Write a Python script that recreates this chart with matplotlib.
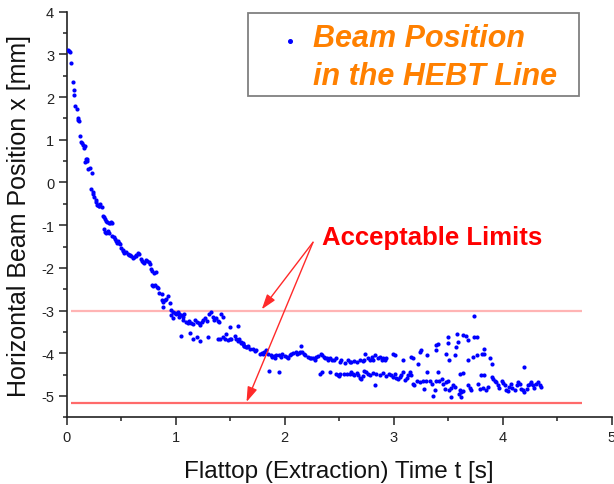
import matplotlib
matplotlib.use('Agg')
import matplotlib.pyplot as plt
import numpy as np
from matplotlib.patches import Rectangle
from matplotlib.lines import Line2D
from matplotlib.ticker import MultipleLocator

plt.rcParams['font.family'] = ['Liberation Sans', 'DejaVu Sans']
plt.rcParams['axes.unicode_minus'] = False

# beam position readings, t [s] / x [mm], grouped by phase of the flattop
t_early = [0.01, 0.03, 0.04, 0.055, 0.07, 0.065, 0.08, 0.095, 0.105, 0.11, 0.12, 0.135, 0.15, 0.16, 0.165,
           0.18, 0.17, 0.19, 0.21, 0.20, 0.23, 0.225, 0.24, 0.255, 0.265, 0.28, 0.29, 0.30, 0.31, 0.32,
           0.33, 0.34, 0.35, 0.37, 0.39, 0.41, 0.42, 0.34, 0.35, 0.365, 0.38, 0.39, 0.42, 0.44, 0.455,
           0.47, 0.48, 0.46, 0.50, 0.515, 0.53, 0.545, 0.56, 0.575, 0.59, 0.605, 0.62, 0.635, 0.65, 0.665,
           0.68, 0.695, 0.71, 0.725, 0.74, 0.755, 0.77, 0.785, 0.80, 0.815,
           0.02, 0.10, 0.14, 0.185, 0.245, 0.27, 0.295, 0.36, 0.40, 0.43, 0.49, 0.52, 0.58, 0.64, 0.70, 0.76]
x_early = [3.10, 3.06, 2.80, 2.35, 2.16, 2.06, 1.79, 1.73, 1.47, 1.44, 1.08, 0.96, 0.87, 0.80, 0.85,
           0.54, 0.49, 0.55, 0.35, 0.31, 0.23, -0.16, -0.23, -0.33, -0.40, -0.52, -0.53, -0.55, -0.51, -0.57,
           -0.78, -0.82, -0.86, -0.92, -0.95, -0.93, -0.95, -1.10, -1.16, -1.18, -1.13, -1.18, -1.26, -1.32, -1.36,
           -1.38, -1.42, -1.41, -1.53, -1.58, -1.64, -1.62, -1.67, -1.69, -1.73, -1.76, -1.74, -1.71, -1.65, -1.68,
           -1.80, -1.84, -1.88, -1.81, -1.85, -1.87, -2.03, -2.07, -2.11, -2.09,
           3.08, 1.50, 0.92, 0.50, -0.28, -0.45, -0.54, -0.90, -0.96, -1.28, -1.45, -1.60, -1.71, -1.72, -1.86, -1.90]

t_mid = [0.78, 0.795, 0.81, 0.825, 0.84, 0.85, 0.87, 0.87, 0.885, 0.90, 0.915, 0.93, 0.945, 0.885, 0.96,
         0.975, 0.99, 1.00, 1.02, 1.035, 1.05, 1.065, 1.08, 0.96, 0.975, 1.035, 1.065, 1.095, 1.11, 1.125,
         1.14, 1.155, 1.18, 1.195, 1.21, 1.225, 1.24, 1.255, 1.27, 1.285, 1.31, 1.325, 1.34, 1.355, 1.37,
         1.385, 1.40, 1.415, 1.43, 1.50, 1.57,
         1.05, 1.13, 1.16, 1.20, 1.22, 1.30,
         1.39, 1.405, 1.435, 1.45, 1.465, 1.48, 1.495, 1.51, 1.54, 1.555, 1.57, 1.585, 1.60, 1.615, 1.63,
         1.645, 1.66]
x_mid = [-2.40, -2.43, -2.40, -2.44, -2.48, -2.58, -2.62, -2.75, -2.79, -2.76, -2.73, -2.67, -2.83, -2.92, -2.99,
         -3.03, -3.06, -3.09, -3.03, -3.07, -3.11, -3.14, -3.08, -3.11, -3.18, -3.14, -3.22, -3.26, -3.30, -3.24,
         -3.28, -3.32, -3.22, -3.26, -3.30, -3.34, -3.26, -3.22, -3.18, -3.24, -3.08, -3.04, -3.15, -3.22, -3.18,
         -3.24, -3.26, -3.08, -3.15, -3.38, -3.36,
         -3.60, -3.53, -3.67, -3.62, -3.72, -3.62,
         -3.67, -3.66, -3.63, -3.67, -3.55, -3.68, -3.66, -3.67, -3.60, -3.67, -3.72, -3.67, -3.75, -3.79, -3.82,
         -3.86, -3.84]

t_upper = [1.60, 1.62, 1.63, 1.65, 1.68, 1.71, 1.73, 1.74, 1.77, 1.79, 1.80, 1.81, 1.83, 1.85, 1.87,
           1.88, 1.90, 1.91, 1.92, 1.95, 1.97, 1.98, 2.00, 2.02, 2.03, 2.05, 2.06, 2.08, 2.10, 2.11,
           2.13, 2.14, 2.15, 2.16, 2.18, 2.19, 2.21, 2.23, 2.24, 2.26, 2.28, 2.29, 2.31, 2.33, 2.34,
           2.36, 2.37, 2.39, 2.40, 2.42, 2.43, 2.45, 2.47, 2.51, 2.52, 2.55, 2.58, 2.60, 2.61, 2.64,
           2.66, 2.69, 2.72, 2.73, 2.74, 2.76, 2.78, 2.80, 2.81, 2.83, 2.86, 2.87, 2.89, 2.90, 2.92,
           2.93, 2.99, 3.01, 3.09, 3.16, 3.18, 3.22, 3.24, 3.25, 3.31, 3.39]
x_upper = [-3.73, -3.77, -3.82, -3.85, -3.89, -3.91, -3.95, -3.93, -4.01, -3.99, -4.02, -3.97, -3.93, -4.01, -4.05,
           -4.09, -4.07, -4.12, -4.05, -4.05, -4.09, -4.02, -4.07, -4.09, -4.10, -4.05, -4.01, -3.99, -3.97, -4.01,
           -3.99, -3.97, -3.84, -3.96, -4.01, -4.05, -4.09, -4.12, -4.10, -4.12, -4.15, -4.09, -4.07, -4.02, -4.05,
           -4.09, -4.12, -4.10, -4.15, -4.12, -4.16, -4.15, -4.12, -4.20, -4.16, -4.22, -4.16, -4.20, -4.20, -4.18,
           -4.20, -4.16, -4.18, -4.15, -4.01, -4.12, -4.16, -4.09, -4.15, -4.05, -4.12, -4.09, -4.15, -4.10, -4.16,
           -4.12, -4.01, -4.05, -4.15, -4.09, -4.12, -4.24, -3.97, -3.93, -4.05, -3.93]

t_lower = [2.32, 2.34, 2.42, 2.47, 2.49, 2.50, 2.51, 2.54, 2.57, 2.60, 2.61, 2.63, 2.64, 2.66, 2.67,
           2.69, 2.70, 2.72, 2.73, 2.75, 2.76, 2.78, 2.81, 2.83, 2.84, 2.87, 2.90, 2.93, 2.96, 2.98,
           2.99, 3.01, 3.02, 3.04, 3.06, 3.07, 3.09, 3.10, 3.12, 3.13, 3.15, 3.16, 3.18, 3.19, 3.21,
           3.24, 3.27, 3.28, 3.30, 3.31, 3.33, 3.35, 3.36, 3.38, 3.39, 3.41, 3.42, 3.44, 3.45, 3.47,
           3.48, 3.50, 3.51, 3.53, 3.54, 3.56, 3.61, 3.64, 3.61, 3.62, 3.64, 3.68, 3.70, 3.71, 3.77,
           3.79, 3.80, 3.82, 3.83, 3.85, 3.87, 3.90, 3.91, 3.93, 3.94, 3.96, 3.97, 3.99, 4.00, 4.02,
           4.03, 4.05, 4.06, 4.08, 4.09, 4.11, 4.13, 4.14, 4.16, 4.17, 4.19, 4.20, 4.22, 4.23, 4.25,
           4.26, 4.28, 4.29, 4.31, 4.32, 4.34, 4.35]
x_lower = [-4.48, -4.44, -4.44, -4.48, -4.52, -4.53, -4.49, -4.48, -4.49, -4.48, -4.44, -4.49, -4.52, -4.46, -4.52,
           -4.57, -4.60, -4.54, -4.42, -4.44, -4.48, -4.52, -4.46, -4.75, -4.49, -4.50, -4.47, -4.53, -4.48, -4.52,
           -4.56, -4.49, -4.57, -4.60, -4.56, -4.52, -4.44, -4.62, -4.57, -4.52, -4.44, -4.52, -4.71, -4.75, -4.65,
           -4.68, -4.64, -4.83, -4.64, -4.44, -4.64, -4.71, -4.99, -4.87, -4.64, -4.44, -4.64, -4.60, -4.71, -4.83,
           -4.68, -4.64, -4.85, -4.81, -4.75, -4.79, -4.49, -4.46, -4.87, -4.91, -4.89, -4.75, -4.81, -4.85, -4.71,
           -4.83, -4.52, -4.81, -4.52, -4.87, -4.79, -4.56, -4.60, -4.64, -4.68, -4.75, -4.81, -4.64, -4.70, -4.75,
           -4.85, -4.89, -4.78, -4.71, -4.81, -4.87, -4.75, -4.68, -4.71, -4.83, -4.87, -4.91, -4.83, -4.75, -4.71,
           -4.68, -4.75, -4.81, -4.71, -4.68, -4.75, -4.78]

# stray readings between / outside the two bands
t_stray = [1.86, 1.95, 3.39, 3.41, 3.48, 3.50, 3.50, 3.51, 3.56, 3.57, 3.58, 3.59, 3.62, 3.53, 3.64,
           3.66, 3.68, 3.68, 3.73, 3.74, 3.74, 3.76, 3.76, 3.81, 3.83, 3.83, 3.88, 3.90, 4.20, 3.60]
x_stray = [-4.42, -4.45, -3.81, -3.79, -4.01, -3.77, -3.62, -4.15, -4.05, -3.85, -3.54, -3.73, -5.03, -5.03, -3.58,
           -3.60, -3.68, -4.16, -4.09, -3.12, -3.62, -3.62, -4.05, -4.01, -4.01, -3.91, -4.12, -4.26, -4.32, -4.95]

upper_limit = -3.0
lower_limit = -5.17
limit_t = [0.04, 4.73]

t_all = np.concatenate([t_early, t_mid, t_upper, t_lower, t_stray])
x_all = np.concatenate([x_early, x_mid, x_upper, x_lower, x_stray])

fig = plt.figure(figsize=(6.14, 4.85), dpi=100)
ax = fig.add_axes([0.1086, 0.1375, 0.8876, 0.8363])

ax.hlines(upper_limit, limit_t[0], limit_t[1], color='#ffb4b4', lw=1.6, zorder=1)
ax.hlines(lower_limit, limit_t[0], limit_t[1], color='#ff6a6a', lw=1.6, zorder=1)
ax.scatter(t_all, x_all, s=9, c='#0000ff', linewidths=0, zorder=3)

ax.set_xlim(0, 5)
ax.set_ylim(-5.5, 4)
ax.set_xticks(range(0, 6))
ax.set_yticks(range(-5, 5))
ax.xaxis.set_minor_locator(MultipleLocator(0.5))
ax.yaxis.set_minor_locator(MultipleLocator(0.5))
ax.tick_params(which='major', direction='out', length=6, width=1.1, labelsize=10.5, pad=3,
               color='#222222', labelcolor='#222222')
ax.tick_params(which='minor', direction='out', length=3, width=1.1, color='#222222')
for side in ['top', 'right']:
    ax.spines[side].set_visible(False)
for side in ['left', 'bottom']:
    ax.spines[side].set_linewidth(1.2)
    ax.spines[side].set_color('#222222')

ax.set_xlabel('Flattop (Extraction) Time t [s]', fontsize=17.5, color='#111111', labelpad=12)
ax.set_ylabel('Horizontal Beam Position x [mm]', fontsize=18, color='#111111', labelpad=7)

# legend-like box in the top right
fig.add_artist(Rectangle((248 / 614, 1 - 97 / 485), (579 - 248) / 614, (97 - 14) / 485,
                         transform=fig.transFigure, fill=False, ec='#808080', lw=1.3))
fig.add_artist(Line2D([290 / 614], [1 - 42 / 485], marker='o', ms=2.6, color='#0000ff',
                      transform=fig.transFigure))
fig.text(313 / 614, 1 - 47 / 485, 'Beam Position', fontsize=22, fontweight='bold', style='italic',
         color='#ff8000', va='baseline')
fig.text(313 / 614, 1 - 85 / 485, 'in the HEBT Line', fontsize=22, fontweight='bold', style='italic',
         color='#ff8000', va='baseline')

# limits annotation
ax.text(2.34, -1.44, 'Acceptable Limits', color='#ff0000', fontsize=18.5, fontweight='bold', va='baseline')
for tip in [(1.79, -2.97), (1.65, -5.14)]:
    ax.annotate('', xy=tip, xytext=(2.26, -1.40),
                arrowprops=dict(arrowstyle='-|>,head_length=0.6,head_width=0.2', color='#ff2a2a',
                                lw=1.0, shrinkA=0, shrinkB=0, mutation_scale=15))

fig.savefig('out.png', dpi=100)
